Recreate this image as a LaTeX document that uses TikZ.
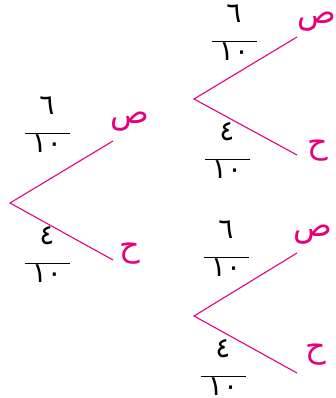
\documentclass[tikz,border=0pt]{standalone}
\usepackage{fontspec}
\newfontfamily\arabicfont[Script=Arabic]{DejaVu Sans}
\TeXXeTstate=1
\usetikzlibrary{positioning}
\usepackage{xcolor}
\definecolor{rubine}{RGB}{230,0,126}

% fraction: name, x, y of bar, numerator, denominator
\newcommand{\probfrac}[5]{%
  \coordinate (#1) at (#2,#3);
  \node[digit] (#1-n) at ([yshift=27pt]#1) {#4};
  \draw[fracbar] ([xshift=-22.5pt]#1) -- ([xshift=22.5pt]#1);
  \node[digit] (#1-d) at ([yshift=-10.5pt]#1) {#5};
}

\begin{document}
\begin{tikzpicture}[x=1pt, y=-1pt,
  branch/.style={rubine, line width=1.1pt},
  fracbar/.style={black, line width=0.9pt},
  digit/.style={font=\arabicfont\fontsize{28}{28}\selectfont, inner sep=0pt},
  outcome/.style={rubine, font=\arabicfont\fontsize{32}{32}\selectfont, inner sep=0pt}]
\useasboundingbox (0,0) rectangle (336,398);

% left tree
\coordinate (L) at (10,203);
\coordinate (L-up) at (113,141);
\coordinate (L-dn) at (113,260);
\draw[branch] (L-up) -- (L) -- (L-dn);
\node[outcome] (L-sad) at (130,122) {\beginR ص\endR};
\node[outcome] (L-ha) at (130,254) {\beginR ح\endR};
\probfrac{L-f1}{47}{133}{٦}{١٠}
\probfrac{L-f2}{47}{263}{٤}{١٠}

% upper right tree
\coordinate (A) at (194,99);
\coordinate (A-up) at (297,37);
\coordinate (A-dn) at (297,155);
\draw[branch] (A-up) -- (A) -- (A-dn);
\node[outcome] (A-sad) at (317,22) {\beginR ص\endR};
\node[outcome] (A-ha) at (318,151) {\beginR ح\endR};
\probfrac{A-f1}{234}{41}{٦}{١٠}
\probfrac{A-f2}{227}{159}{٤}{١٠}

% lower right tree
\coordinate (B) at (194,316);
\coordinate (B-up) at (297,253);
\coordinate (B-dn) at (297,373);
\draw[branch] (B-up) -- (B) -- (B-dn);
\node[outcome] (B-sad) at (313,235) {\beginR ص\endR};
\node[outcome] (B-ha) at (316,355) {\beginR ح\endR};
\probfrac{B-f1}{226}{257}{٦}{١٠}
\probfrac{B-f2}{223}{376}{٤}{١٠}
\end{tikzpicture}
\end{document}
